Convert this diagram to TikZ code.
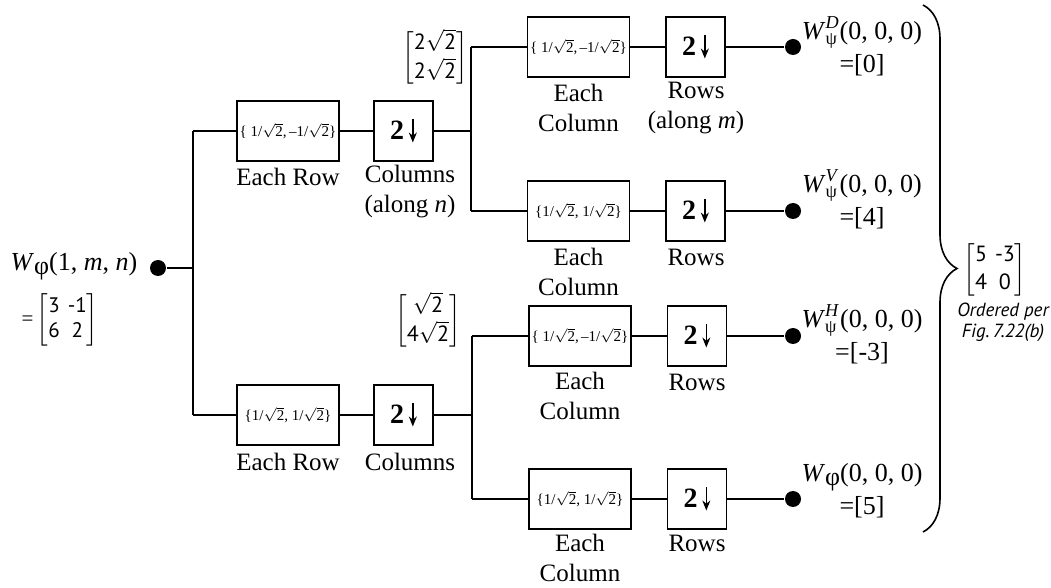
\documentclass[tikz,border=0pt]{standalone}
\usepackage{amsmath}
\usepackage{fontspec}
\setmainfont{Liberation Serif}
\setsansfont{PT Sans}
\usetikzlibrary{decorations.pathreplacing,arrows.meta}

% square root of a text-font number
\newcommand{\rt}[1]{$\sqrt{\text{#1}}$}
% filter coefficient pairs
\newcommand{\hipass}{\{ 1/\rt{2},\,--1/\rt{2}\}}
\newcommand{\lopass}{\{1/\rt{2}, 1/\rt{2}\}}
% downsampling symbol: bold 2 with a thin arrow
\newcommand{\dn}{2\,\tikz[baseline=0pt]{\draw[line width=0.7pt,-{Stealth[length=5pt,width=4pt]}] (0pt,10pt) -- (0pt,-1.5pt);}}
% two-row bracketed column in sans type
\newcommand{\bmat}[2]{$\left[\begin{tabular}{@{}c@{}}\sffamily #1\\\sffamily #2\end{tabular}\right]$}
% two-by-two bracketed matrix in sans type
\newcommand{\mmat}[4]{$\left[\begin{tabular}{@{}c@{\hspace{4pt}}c@{}}\sffamily #1 & \sffamily #2\\\sffamily #3 & \sffamily #4\end{tabular}\right]$}

\begin{document}
\begin{tikzpicture}[x=0.5pt,y=-0.5pt,line width=0.7pt,
  filt/.style={draw,line width=0.9pt,minimum width=51pt,minimum height=30pt,inner sep=0pt,
    font=\fontsize{7.5}{8}\selectfont},
  dsamp/.style={draw,line width=0.9pt,minimum width=29.5pt,minimum height=30pt,inner sep=0pt,
    font=\fontsize{14}{16}\selectfont\bfseries},
  capt/.style={align=center,inner sep=0pt,font=\fontsize{12.5}{15}\selectfont},
  outlbl/.style={align=center,inner sep=0pt,font=\fontsize{13}{16.5}\selectfont},
  vec/.style={inner sep=0pt,font=\fontsize{11}{14}\selectfont},
  dot/.style={circle,fill,inner sep=0pt,minimum size=8pt}]
\useasboundingbox (0,0) rectangle (1051,588);

% input
\node[dot] (root) at (158,268) {};
\node[outlbl,anchor=east] (inlbl) at (138,266)
  {\textit{W}\raisebox{-0.3ex}{φ}(1, \textit{m}, \textit{n})};
\node[inner sep=0pt,font=\fontsize{10.5}{12.5}\selectfont] (inmat) at (60,320)
  {=\,\mmat{3}{-1}{6}{2}};

% first stage: rows
\coordinate (s0) at (193,268);
\coordinate (s0t) at (193,131);
\coordinate (s0b) at (193,415);
\node[filt] (b1) at (288,131) {\hipass};
\node[dsamp] (b2) at (403.5,131) {\dn};
\node[filt] (b3) at (288,415) {\lopass};
\node[dsamp] (b4) at (403.5,415) {\dn};
\node[capt] (c1) at (288,177) {Each Row};
\node[capt] (c2) at (410,192) {Columns\\(along \textit{n})};
\node[capt] (c3) at (288,462) {Each Row};
\node[capt] (c4) at (410,462) {Columns};

% intermediate results
\node[vec] (v1) at (435,58) {\bmat{2\rt{2}}{2\rt{2}}};
\node[vec] (v2) at (428,321) {\bmat{\rt{2}}{4\rt{2}}};

% second stage: columns
\coordinate (s1) at (471,131);
\coordinate (s1t) at (471,47);
\coordinate (s1b) at (471,211);
\coordinate (s2) at (472,415);
\coordinate (s2t) at (472,336);
\coordinate (s2b) at (472,499);

\node[filt] (b5) at (578.5,47) {\hipass};
\node[dsamp] (b6) at (695.5,47) {\dn};
\node[filt] (b7) at (578.5,211) {\lopass};
\node[dsamp] (b8) at (695.5,211) {\dn};
\node[filt] (b9) at (580,336) {\hipass};
\node[dsamp] (b10) at (697,336) {\dn};
\node[filt] (b11) at (580,499) {\lopass};
\node[dsamp] (b12) at (697,499) {\dn};

\node[capt] (c5) at (578.5,108) {Each\\Column};
\node[capt] (c6) at (696,108) {Rows\\(along \textit{m})};
\node[capt] (c7) at (578.5,272) {Each\\Column};
\node[capt] (c8) at (696,257) {Rows};
\node[capt] (c9) at (580,396) {Each\\Column};
\node[capt] (c10) at (697,382) {Rows};
\node[capt] (c11) at (580,558) {Each\\Column};
\node[capt] (c12) at (697,543) {Rows};

% outputs
\node[dot] (o1) at (793,47) {};
\node[dot] (o2) at (793,211) {};
\node[dot] (o3) at (793,336) {};
\node[dot] (o4) at (793,499) {};
\node[outlbl] (l1) at (862,46)
  {$\text{\textit{W}}^{\text{\textit{D}}}_{\text{ψ}}$(0, 0, 0)\\=[0]};
\node[outlbl] (l2) at (862,199)
  {$\text{\textit{W}}^{\text{\textit{V}}}_{\text{ψ}}$(0, 0, 0)\\=[4]};
\node[outlbl] (l3) at (862,334)
  {$\text{\textit{W}}^{\text{\textit{H}}}_{\text{ψ}}$(0, 0, 0)\\=[-3]};
\node[outlbl] (l4) at (862,491)
  {\textit{W}\raisebox{-0.3ex}{φ}(0, 0, 0)\\=[5]};

% connectors
\draw (root) -- (s0);
\draw (s0t) -- (s0b);
\draw (s0t) -- (b1);
\draw (b1) -- (b2);
\draw (b2) -- (s1);
\draw (s0b) -- (b3);
\draw (b3) -- (b4);
\draw (b4) -- (s2);
\draw (s1t) -- (s1b);
\draw (s2t) -- (s2b);
\draw (s1t) -- (b5);  \draw (b5) -- (b6);  \draw (b6) -- (o1);
\draw (s1b) -- (b7);  \draw (b7) -- (b8);  \draw (b8) -- (o2);
\draw (s2t) -- (b9);  \draw (b9) -- (b10); \draw (b10) -- (o3);
\draw (s2b) -- (b11); \draw (b11) -- (b12); \draw (b12) -- (o4);

% collected coefficients
\coordinate (bt) at (923,5);
\coordinate (bb) at (923,532);
\draw[line width=0.8pt,decorate,decoration={brace,amplitude=17pt}] (bt) -- (bb);
\node[inner sep=0pt,font=\fontsize{11}{14}\selectfont] (omat) at (995,270)
  {\mmat{5}{-3}{4}{0}};
\node[align=center,inner sep=0pt,font=\sffamily\itshape\fontsize{9.5}{10.5}\selectfont] (note) at (1003,322)
  {Ordered per\\Fig.\,7.22(b)};
\end{tikzpicture}
\end{document}
